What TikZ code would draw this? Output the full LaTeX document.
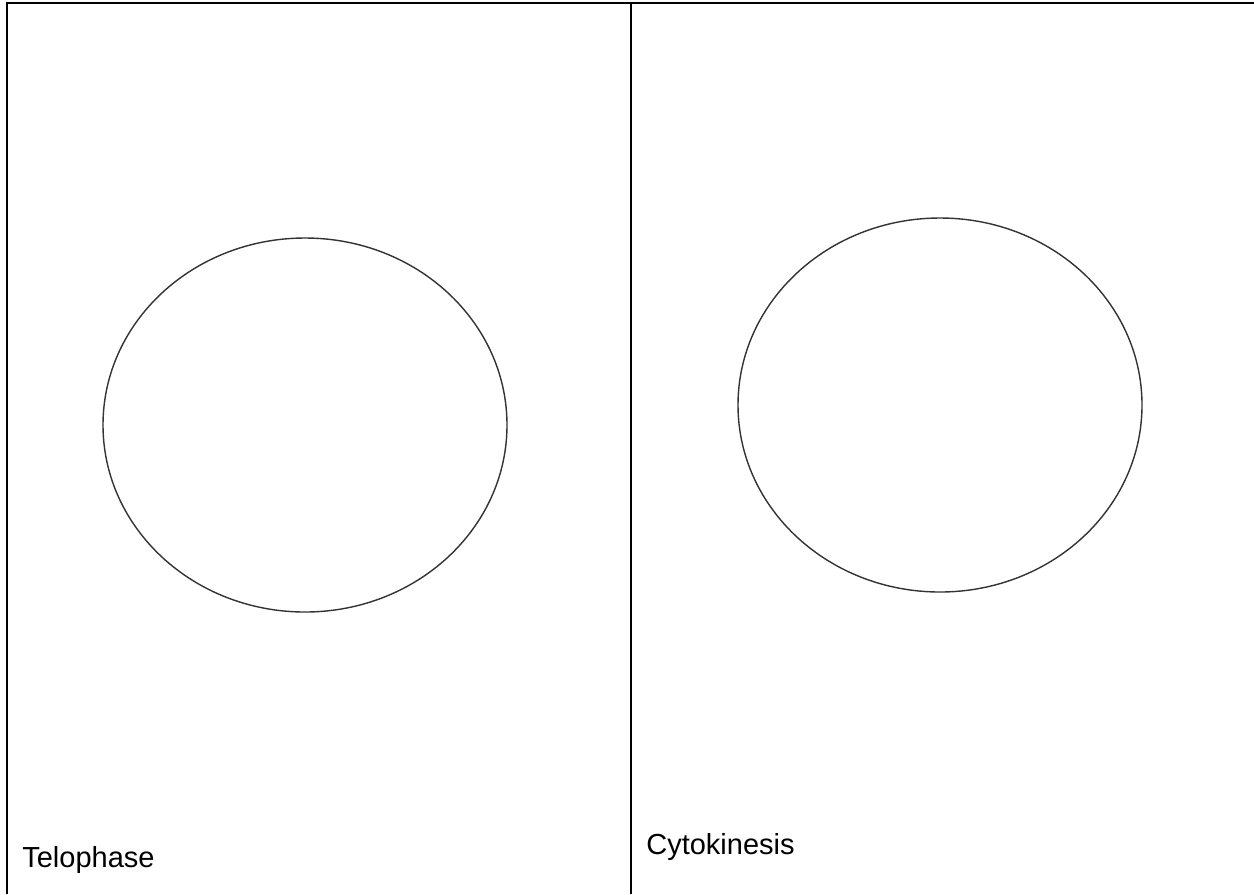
\documentclass[tikz,border=0pt]{standalone}
\usepackage{fontspec}
\setmainfont{Liberation Sans}
\usepackage{tikz}
\usetikzlibrary{positioning}

\tikzset{
  frame/.style={line width=1.2pt,black},
  cell/.style={line width=0.8pt,black!80},
  phase/.style={inner sep=0pt,anchor=base west,font=\fontsize{16.5}{19}\selectfont}
}

\begin{document}
\begin{tikzpicture}[x=0.02cm,y=-0.02cm]
\useasboundingbox (0,0) rectangle (1254,894);
\draw[frame] (6,3)--(1254,3);
\draw[frame] (7,3)--(7,894);
\draw[frame] (631,3)--(631,894);
\draw[cell] (305,425) ellipse (202 and 187);
\draw[cell] (940,405) ellipse (202 and 187);
\node[phase] (telophase) at (22,867) {Telophase};
\node[phase] (cytokinesis) at (646,854) {Cytokinesis};
\end{tikzpicture}
\end{document}
